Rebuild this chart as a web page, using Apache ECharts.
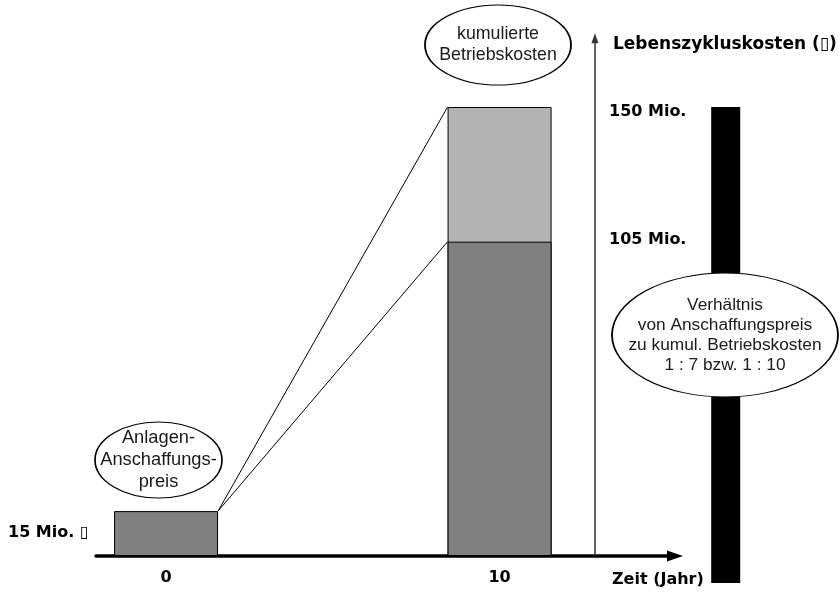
<!DOCTYPE html>
<html><head><meta charset="utf-8">
<script src="https://cdn.jsdelivr.net/npm/echarts@6/dist/echarts.min.js"></script>
<style>html,body{margin:0;padding:0;background:#fff}#c{width:840px;height:592px}</style>
</head><body><div id="c"></div>
<script>
// ---- data ----
const years = [0, 10];                 // Zeit (Jahr)
const costBase = [15, 105];            // Mio.: Anschaffungspreis (Jahr 0), kumul. Betriebskosten 1:7 (Jahr 10)
const costHigh = [null, 150];          // kumul. Betriebskosten 1:10 (Jahr 10)
const yearTickLabels = ['0', '10'];
const valueLabels = ['150 Mio.', '105 Mio.'];
const ratioBar = [[16.78, -9, 150]];   // [x, von, bis]
const lifeAxisX = 12.86;               // position of Lebenszykluskosten axis (in years)
const lifeAxisTop = 173;

// ---- layout constants ----
const BAR_W = 104;
const PX_PER_YEAR = 33.35;
const halfBar = (BAR_W / 2) / PX_PER_YEAR;
const FONT = 'Liberation Sans, Arial, sans-serif';
const BFONT = 'DejaVu Sans, sans-serif';

const chart = echarts.init(document.getElementById('c'));

const connectorLines = [costHigh[1], costBase[1]].map(function(v){
  return [[years[0] + halfBar, costBase[0]], [years[1] - halfBar, v]];
});

function ellipse(cx, cy, w, h, text, fs, lh){
  return {
    type: 'group',
    children: [
      {type: 'circle', z: 100, x: cx, y: cy, scaleX: w / h, scaleY: 1,
       shape: {cx: 0, cy: 0, r: h / 2},
       style: {fill: '#fff', stroke: '#000', lineWidth: 1, strokeNoScale: true}},
      {type: 'text', z: 101, x: cx, y: cy,
       style: {text: text, fill: '#1a1a1a', fontFamily: FONT, fontSize: fs, lineHeight: lh,
               align: 'center', verticalAlign: 'middle', textAlign: 'center', textVerticalAlign: 'middle'}}
    ]
  };
}
function btext(x, y, text, fs){
  return {type: 'text', x: x, y: y, z: 100,
    style: {text: text, fill: '#000', fontFamily: BFONT, fontWeight: 'bold', fontSize: fs || 16,
            verticalAlign: 'middle', textVerticalAlign: 'middle'}};
}

const option = {
  backgroundColor: '#fff',
  animation: false,
  grid: {left: 96, right: 165, top: 17.2, bottom: 36, containLabel: false, outerBoundsMode: 'none'},
  xAxis: {
    type: 'value', min: -2.1, max: 15.26,
    axisLine: {show: true, onZero: false, symbol: ['none', 'triangle'], symbolSize: [11, 16],
               lineStyle: {color: '#000', width: 3.5}},
    axisTick: {show: false},
    splitLine: {show: false},
    axisLabel: {customValues: years, margin: 14, color: '#000', fontFamily: BFONT, fontWeight: 'bold', fontSize: 16,
                formatter: function(v){ return yearTickLabels[years.indexOf(v)]; }}
  },
  yAxis: {
    type: 'value', min: 0, max: 180, show: false,
    splitLine: {show: false}
  },
  graphic: [
    btext(613, 45, 'Lebenszykluskosten (\u25AF)', 17),
    btext(609, 112, valueLabels[0]),
    btext(609, 240, valueLabels[1]),
    btext(8, 533, '15 Mio. \u25AF'),
    btext(612, 580, 'Zeit (Jahr)'),
    ellipse(498, 45, 146, 80, 'kumulierte\nBetriebskosten', 17.8, 21),
    ellipse(158.5, 460, 127, 76, 'Anlagen-\nAnschaffungs-\npreis', 18.3, 22),
    ellipse(725, 335, 226, 124, 'Verhältnis\nvon Anschaffungspreis\nzu kumul. Betriebskosten\n1 : 7 bzw. 1 : 10', 17.3, 20)
  ],
  series: [
    {
      type: 'custom', clip: false, z: 1,
      renderItem: function(params, api){
        const top = api.coord([api.value(0), api.value(2)]);
        const bot = api.coord([api.value(0), api.value(1)]);
        return {type: 'rect', shape: {x: top[0] - 14.5, y: top[1], width: 29, height: bot[1] - top[1]},
                style: {fill: '#000'}};
      },
      data: ratioBar
    },
    {
      type: 'bar', barWidth: BAR_W, barGap: '-100%', z: 2,
      itemStyle: {color: '#b3b3b3', borderColor: '#000', borderWidth: 1},
      data: years.map(function(x, i){ return [x, costHigh[i]]; }).filter(function(d){ return d[1] != null; })
    },
    {
      type: 'bar', barWidth: BAR_W, barGap: '-100%', z: 3,
      itemStyle: {color: '#808080', borderColor: '#000', borderWidth: 1},
      data: years.map(function(x, i){ return [x, costBase[i]]; })
    },
    {
      type: 'line', z: 4, symbol: 'none', silent: true,
      lineStyle: {color: '#000', width: 1},
      data: connectorLines[0],
      markLine: {
        silent: true, symbol: ['none', 'triangle'], symbolSize: [7, 10],
        label: {show: false},
        lineStyle: {color: '#333', width: 1.5, type: 'solid'},
        data: [[{coord: [lifeAxisX, 0]}, {coord: [lifeAxisX, lifeAxisTop]}]]
      }
    },
    {
      type: 'line', z: 4, symbol: 'none', silent: true,
      lineStyle: {color: '#000', width: 1},
      data: connectorLines[1]
    }
  ]
};
chart.setOption(option);
</script>
</body></html>
